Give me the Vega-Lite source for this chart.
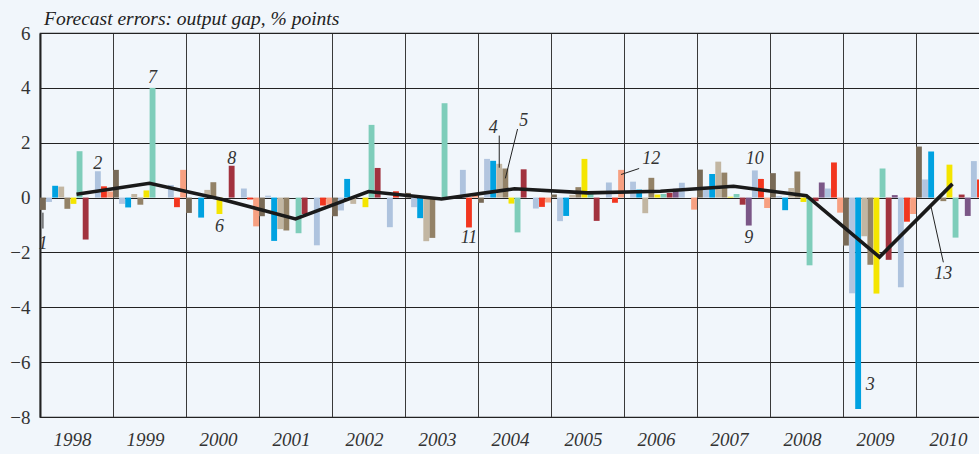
{
  "$schema": "https://vega.github.io/schema/vega-lite/v6.json",
  "width": 949,
  "height": 384,
  "autosize": {"type": "none"},
  "padding": {"left": 40, "top": 33, "right": 0, "bottom": 37},
  "background": "#f1f6fb",
  "title": {
    "text": "Forecast errors: output gap, % points",
    "anchor": "start",
    "frame": "group",
    "dx": 4,
    "offset": -5,
    "font": "Liberation Serif",
    "fontStyle": "italic",
    "fontWeight": "normal",
    "fontSize": 19.5,
    "color": "#222222"
  },
  "config": {
    "view": {"stroke": "#222222", "strokeWidth": 1.2},
    "axis": {"labelFont": "Liberation Serif", "labelFontSize": 19, "labelColor": "#333333"}
  },
  "datasets": {
    "bars": [
      {"year": "1998", "slot": 1, "value": -0.45}, {"year": "1998", "slot": 2, "value": -0.16}, {"year": "1998", "slot": 3, "value": 0.43}, {"year": "1998", "slot": 4, "value": 0.40}, {"year": "1998", "slot": 5, "value": -0.41}, {"year": "1998", "slot": 6, "value": -0.23}, {"year": "1998", "slot": 7, "value": 1.69}, {"year": "1998", "slot": 8, "value": -1.53}, {"year": "1998", "slot": 10, "value": 0.96}, {"year": "1998", "slot": 11, "value": 0.41}, {"year": "1998", "slot": 12, "value": 0.22},
      {"year": "1999", "slot": 1, "value": 1.01}, {"year": "1999", "slot": 2, "value": -0.23}, {"year": "1999", "slot": 3, "value": -0.36}, {"year": "1999", "slot": 4, "value": 0.13}, {"year": "1999", "slot": 5, "value": -0.26}, {"year": "1999", "slot": 6, "value": 0.26}, {"year": "1999", "slot": 7, "value": 4.0}, {"year": "1999", "slot": 10, "value": 0.46}, {"year": "1999", "slot": 11, "value": -0.35}, {"year": "1999", "slot": 12, "value": 1.01},
      {"year": "2000", "slot": 1, "value": -0.56}, {"year": "2000", "slot": 3, "value": -0.73}, {"year": "2000", "slot": 4, "value": 0.28}, {"year": "2000", "slot": 5, "value": 0.56}, {"year": "2000", "slot": 6, "value": -0.60}, {"year": "2000", "slot": 8, "value": 1.16}, {"year": "2000", "slot": 10, "value": 0.33}, {"year": "2000", "slot": 11, "value": -0.07}, {"year": "2000", "slot": 12, "value": -1.05},
      {"year": "2001", "slot": 1, "value": -0.68}, {"year": "2001", "slot": 2, "value": 0.07}, {"year": "2001", "slot": 3, "value": -1.58}, {"year": "2001", "slot": 4, "value": -1.15}, {"year": "2001", "slot": 5, "value": -1.2}, {"year": "2001", "slot": 7, "value": -1.30}, {"year": "2001", "slot": 8, "value": -0.60}, {"year": "2001", "slot": 10, "value": -1.74}, {"year": "2001", "slot": 11, "value": -0.29}, {"year": "2001", "slot": 12, "value": -0.26},
      {"year": "2002", "slot": 1, "value": -0.68}, {"year": "2002", "slot": 2, "value": -0.47}, {"year": "2002", "slot": 3, "value": 0.68}, {"year": "2002", "slot": 4, "value": -0.23}, {"year": "2002", "slot": 6, "value": -0.35}, {"year": "2002", "slot": 7, "value": 2.65}, {"year": "2002", "slot": 8, "value": 1.08}, {"year": "2002", "slot": 10, "value": -1.08}, {"year": "2002", "slot": 11, "value": 0.23},
      {"year": "2003", "slot": 1, "value": 0.17}, {"year": "2003", "slot": 2, "value": -0.35}, {"year": "2003", "slot": 3, "value": -0.75}, {"year": "2003", "slot": 4, "value": -1.59}, {"year": "2003", "slot": 5, "value": -1.47}, {"year": "2003", "slot": 7, "value": 3.44}, {"year": "2003", "slot": 10, "value": 1.01}, {"year": "2003", "slot": 11, "value": -1.09}, {"year": "2003", "slot": 12, "value": 0.08},
      {"year": "2004", "slot": 1, "value": -0.19}, {"year": "2004", "slot": 2, "value": 1.41}, {"year": "2004", "slot": 3, "value": 1.34}, {"year": "2004", "slot": 4, "value": 1.23}, {"year": "2004", "slot": 5, "value": 1.06}, {"year": "2004", "slot": 6, "value": -0.22}, {"year": "2004", "slot": 7, "value": -1.27}, {"year": "2004", "slot": 8, "value": 1.03}, {"year": "2004", "slot": 10, "value": -0.40}, {"year": "2004", "slot": 11, "value": -0.34}, {"year": "2004", "slot": 12, "value": -0.18},
      {"year": "2005", "slot": 1, "value": 0.11}, {"year": "2005", "slot": 2, "value": -0.86}, {"year": "2005", "slot": 3, "value": -0.67}, {"year": "2005", "slot": 4, "value": 0.1}, {"year": "2005", "slot": 5, "value": 0.38}, {"year": "2005", "slot": 6, "value": 1.41}, {"year": "2005", "slot": 7, "value": 0.2}, {"year": "2005", "slot": 8, "value": -0.85}, {"year": "2005", "slot": 10, "value": 0.55}, {"year": "2005", "slot": 11, "value": -0.19}, {"year": "2005", "slot": 12, "value": 1.01},
      {"year": "2006", "slot": 2, "value": 0.58}, {"year": "2006", "slot": 3, "value": 0.29}, {"year": "2006", "slot": 4, "value": -0.57}, {"year": "2006", "slot": 5, "value": 0.72}, {"year": "2006", "slot": 6, "value": 0.11}, {"year": "2006", "slot": 7, "value": 0.13}, {"year": "2006", "slot": 8, "value": 0.17}, {"year": "2006", "slot": 9, "value": 0.32}, {"year": "2006", "slot": 10, "value": 0.54}, {"year": "2006", "slot": 12, "value": -0.44},
      {"year": "2007", "slot": 1, "value": 1.02}, {"year": "2007", "slot": 2, "value": 0.4}, {"year": "2007", "slot": 3, "value": 0.86}, {"year": "2007", "slot": 4, "value": 1.31}, {"year": "2007", "slot": 5, "value": 0.91}, {"year": "2007", "slot": 6, "value": 0.03}, {"year": "2007", "slot": 7, "value": 0.13}, {"year": "2007", "slot": 8, "value": -0.26}, {"year": "2007", "slot": 9, "value": -1.02}, {"year": "2007", "slot": 10, "value": 0.99}, {"year": "2007", "slot": 11, "value": 0.68}, {"year": "2007", "slot": 12, "value": -0.38},
      {"year": "2008", "slot": 1, "value": 0.89}, {"year": "2008", "slot": 2, "value": 0.05}, {"year": "2008", "slot": 3, "value": -0.46}, {"year": "2008", "slot": 4, "value": 0.35}, {"year": "2008", "slot": 5, "value": 0.95}, {"year": "2008", "slot": 6, "value": -0.16}, {"year": "2008", "slot": 7, "value": -2.47}, {"year": "2008", "slot": 8, "value": -0.13}, {"year": "2008", "slot": 9, "value": 0.55}, {"year": "2008", "slot": 10, "value": 0.33}, {"year": "2008", "slot": 11, "value": 1.28}, {"year": "2008", "slot": 12, "value": -0.55},
      {"year": "2009", "slot": 1, "value": -1.75}, {"year": "2009", "slot": 2, "value": -3.49}, {"year": "2009", "slot": 3, "value": -7.71}, {"year": "2009", "slot": 4, "value": -1.41}, {"year": "2009", "slot": 5, "value": -2.45}, {"year": "2009", "slot": 6, "value": -3.5}, {"year": "2009", "slot": 7, "value": 1.06}, {"year": "2009", "slot": 8, "value": -2.27}, {"year": "2009", "slot": 9, "value": 0.09}, {"year": "2009", "slot": 10, "value": -3.27}, {"year": "2009", "slot": 11, "value": -0.88}, {"year": "2009", "slot": 12, "value": -0.6},
      {"year": "2010", "slot": 1, "value": 1.86}, {"year": "2010", "slot": 2, "value": 0.66}, {"year": "2010", "slot": 3, "value": 1.68}, {"year": "2010", "slot": 4, "value": -0.08}, {"year": "2010", "slot": 5, "value": -0.13}, {"year": "2010", "slot": 6, "value": 1.2}, {"year": "2010", "slot": 7, "value": -1.46}, {"year": "2010", "slot": 8, "value": 0.11}, {"year": "2010", "slot": 9, "value": -0.67}, {"year": "2010", "slot": 10, "value": 1.33}, {"year": "2010", "slot": 11, "value": 0.66}, {"year": "2010", "slot": 12, "value": 0.2}
    ],
    "avg": [
      {"year": "1998", "value": 0.12}, {"year": "1999", "value": 0.52}, {"year": "2000", "value": -0.07}, {"year": "2001", "value": -0.78}, {"year": "2002", "value": 0.22}, {"year": "2003", "value": -0.05}, {"year": "2004", "value": 0.32}, {"year": "2005", "value": 0.17}, {"year": "2006", "value": 0.23}, {"year": "2007", "value": 0.41}, {"year": "2008", "value": 0.07}, {"year": "2009", "value": -2.17}, {"year": "2010", "value": 0.5}
    ],
    "labels": [
      {"year": "1998", "slot": 1, "value": -1.68, "text": "1"},
      {"year": "1998", "slot": 10, "value": 1.24, "text": "2"},
      {"year": "2009", "slot": 5, "value": -6.85, "text": "3"},
      {"year": "2004", "slot": 3, "value": 2.55, "text": "4"},
      {"year": "2004", "slot": 8, "value": 2.8, "text": "5"},
      {"year": "2000", "slot": 6, "value": -1.06, "text": "6"},
      {"year": "1999", "slot": 7, "value": 4.37, "text": "7"},
      {"year": "2000", "slot": 8, "value": 1.42, "text": "8"},
      {"year": "2007", "slot": 9, "value": -1.46, "text": "9"},
      {"year": "2007", "slot": 10, "value": 1.42, "text": "10"},
      {"year": "2003", "slot": 11, "value": -1.46, "text": "11"},
      {"year": "2006", "slot": 5, "value": 1.42, "text": "12"},
      {"year": "2010", "slot": 5, "value": -2.77, "text": "13"}
    ],
    "leaders": [
      {"id": "1", "year": "1998", "slot": 1, "value": -0.55}, {"id": "1", "year": "1998", "slot": 1, "value": -1.13},
      {"id": "4", "year": "2004", "slot": 4, "value": 2.26}, {"id": "4", "year": "2004", "slot": 4, "value": 1.09},
      {"id": "5", "year": "2004", "slot": 7, "value": 2.5}, {"id": "5", "year": "2004", "slot": 5, "value": 0.7},
      {"id": "12", "year": "2006", "slot": 3, "value": 1.06}, {"id": "12", "year": "2005", "slot": 12, "value": 0.84},
      {"id": "13", "year": "2010", "slot": 3, "value": -0.35}, {"id": "13", "year": "2010", "slot": 5, "value": -2.36}
    ]
  },
  "encoding": {
    "x": {
      "field": "year",
      "type": "ordinal",
      "scale": {"domain": ["1998","1999","2000","2001","2002","2003","2004","2005","2006","2007","2008","2009","2010"], "paddingInner": 0, "paddingOuter": 0},
      "axis": {
        "title": null,
        "labelAngle": 0,
        "bandPosition": 0,
        "labelOffset": -4,
        "labelPadding": 13,
        "labelFontStyle": "italic",
        "ticks": false,
        "domain": false,
        "grid": true,
        "gridColor": "#3a3a3a",
        "gridWidth": 1
      }
    },
    "y": {
      "field": "value",
      "type": "quantitative",
      "scale": {"domain": [-8, 6], "nice": false, "zero": false},
      "axis": {
        "title": null,
        "values": [-8, -6, -4, -2, 0, 2, 4, 6],
        "ticks": false,
        "labelPadding": 10,
        "domainColor": "#222222",
        "domainWidth": 2,
        "grid": true,
        "gridColor": "#222222",
        "gridWidth": 1
      }
    }
  },
  "layer": [
    {
      "data": {"name": "bars"},
      "mark": {"type": "bar"},
      "encoding": {
        "xOffset": {"field": "slot", "type": "ordinal", "scale": {"domain": [1,2,3,4,5,6,7,8,9,10,11,12], "paddingInner": 0.04, "paddingOuter": 0}},
        "color": {
          "field": "slot",
          "type": "nominal",
          "legend": null,
          "scale": {
            "domain": [1,2,3,4,5,6,7,8,9,10,11,12],
            "range": ["#786a57", "#b2c5df", "#00a2e1", "#c2b6a2", "#938267", "#f4e500", "#7ecdba", "#a2323e", "#7b5787", "#aec3de", "#f2361f", "#f7a081"]
          }
        }
      }
    },
    {
      "data": {"name": "leaders"},
      "mark": {"type": "line", "color": "#222222", "strokeWidth": 1},
      "encoding": {
        "xOffset": {"field": "slot", "type": "ordinal"},
        "detail": {"field": "id"}
      }
    },
    {
      "data": {"name": "avg"},
      "mark": {"type": "line", "color": "#1a1a1a", "strokeWidth": 3.6, "strokeJoin": "miter"},
      "encoding": {}
    },
    {
      "data": {"name": "labels"},
      "mark": {"type": "text", "font": "Liberation Serif", "fontStyle": "italic", "fontSize": 18, "color": "#333333", "baseline": "middle", "align": "center"},
      "encoding": {
        "xOffset": {"field": "slot", "type": "ordinal"},
        "text": {"field": "text"}
      }
    }
  ]
}
